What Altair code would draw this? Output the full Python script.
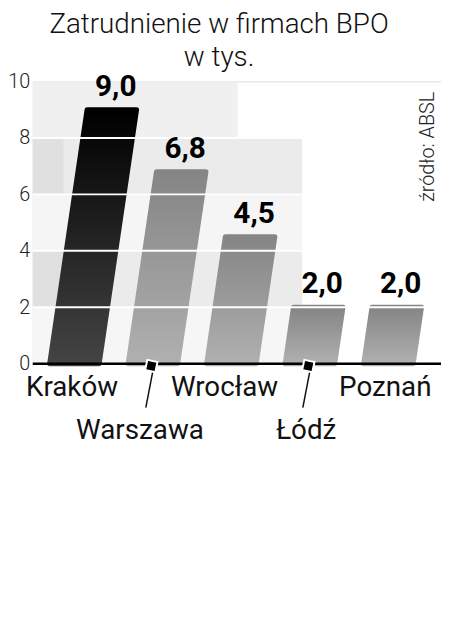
import altair as alt
import pandas as pd

# ---- data ----
cities = ["Kraków", "Warszawa", "Wrocław", "Łódź", "Poznań"]
values = [9.0, 6.8, 4.5, 2.0, 2.0]
label_rows = [1, 2, 1, 2, 1]
y_ticks = [0, 2, 4, 6, 8, 10]
grid_values = [2, 4, 6, 8]
title_lines = ["Zatrudnienie w firmach BPO", "w tys."]
source_text = "źródło: ABSL"

# ---- style constants ----
W, H = 412, 285
X_MAX = 5.2            # slots across the plot
OFF = 0.2146           # left offset of a bar in its slot
BW = 0.631             # bar width (slots)
SLANT = 0.053          # horizontal lean per unit of value (slots)
FONT = "Roboto"
label_shift = [-0.03, -0.165, -0.088, -0.047, -0.04]   # category label nudges (slots)

# table for bars: two rows per city (bottom, top)
bar_rows = []
for i, (c, v) in enumerate(zip(cities, values)):
    for y in (0.0, v):
        bar_rows.append({"city": c, "idx": i, "y": y, "value": v})
bars_df = pd.DataFrame(bar_rows)

lab_df = pd.DataFrame({
    "city": cities,
    "idx": list(range(len(cities))),
    "value": values,
    "row": label_rows,
    "shift": label_shift,
    "txt": [f"{v:.1f}".replace(".", ",") for v in values],
})

xs = alt.Scale(domain=[0, X_MAX], nice=False, zero=False)
ys = alt.Scale(domain=[0, 10], nice=False)

base_bars = alt.Chart(bars_df).transform_calculate(
    xl=f"datum.idx + {OFF} + {SLANT} * datum.y",
    xr=f"datum.idx + {OFF} + {BW} + {SLANT} * datum.y",
)

dark_grad = alt.Gradient(
    gradient="linear", x1=0, y1=1, x2=0, y2=0,
    stops=[alt.GradientStop(color="#444444", offset=0),
           alt.GradientStop(color="#000000", offset=1)],
)
gray_grad = alt.Gradient(
    gradient="linear", x1=0, y1=1, x2=0, y2=0,
    stops=[alt.GradientStop(color="#b0b0b0", offset=0),
           alt.GradientStop(color="#858585", offset=1)],
)

def bar_layer(filt, grad):
    return base_bars.transform_filter(filt).mark_area(
        orient="horizontal", fill=grad, stroke=grad, strokeWidth=5,
        strokeJoin="round",
    ).encode(
        y=alt.Y("y:Q", scale=ys, axis=alt.Axis(
            values=y_ticks, domain=False, ticks=False, grid=False,
            labelFont=FONT, labelFontSize=20, labelFontWeight=300,
            labelColor="#222222", labelPadding=3, title=None)),
        x=alt.X("xl:Q", scale=xs, axis=None),
        x2="xr:Q",
        detail="city:N",
    )

kr = bar_layer(alt.datum.city == cities[0], dark_grad)
others = bar_layer(alt.datum.city != cities[0], gray_grad)

# staircase backdrop
bands = pd.DataFrame({
    "y0": [8, 6, 4, 2, 0, 6, 2],
    "y1": [10, 8, 6, 4, 2, 8, 4],
    "x0": [0, 0, 0, 0, 0, 0, 0],
    "x1": [2.61, 3.43, 3.43, 3.43, 3.43, 0.39, 0.39],
    "fill": ["#f0f0f0", "#ebebeb", "#f5f5f5", "#ebebeb", "#f6f6f6", "#e0e0e0", "#e0e0e0"],
})
backdrop = alt.Chart(bands).mark_rect().encode(
    x=alt.X("x0:Q", scale=xs, axis=None), x2="x1:Q",
    y=alt.Y("y0:Q", scale=ys), y2="y1:Q",
    color=alt.Color("fill:N", scale=None),
)

grid = alt.Chart(pd.DataFrame({"g": grid_values})).mark_rule(
    color="white", strokeWidth=2
).encode(y=alt.Y("g:Q", scale=ys), x=alt.value(0), x2=alt.value(W))

axis_line = alt.Chart(pd.DataFrame({"z": [0]})).mark_rule(
    color="black", strokeWidth=2.5
).encode(y=alt.Y("z:Q", scale=ys), x=alt.value(0), x2=alt.value(W))

labels_base = alt.Chart(lab_df).transform_calculate(
    cx=f"datum.idx + {OFF} + {BW}/2",
    lx=f"datum.idx + {OFF} + {BW}/2 + datum.shift",
    tx=f"datum.idx + {OFF} + {BW}/2 + {SLANT} * datum.value + 0.05",
    zero="0",
)

value_labels = labels_base.mark_text(
    font=FONT, fontSize=30, fontWeight="bold", color="#000000",
    baseline="alphabetic", dy=-14,
).encode(
    x=alt.X("tx:Q", scale=xs), y=alt.Y("value:Q", scale=ys), text="txt:N"
)

row1 = labels_base.transform_filter(alt.datum.row == 1).mark_text(
    font=FONT, fontSize=28, color="#111111", baseline="alphabetic", dy=33,
).encode(x=alt.X("lx:Q", scale=xs), y=alt.Y("zero:Q", scale=ys), text="city:N")

row2 = labels_base.transform_filter(alt.datum.row == 2).mark_text(
    font=FONT, fontSize=28, color="#111111", baseline="alphabetic", dy=76,
).encode(x=alt.X("lx:Q", scale=xs), y=alt.Y("zero:Q", scale=ys), text="city:N")

leaders = labels_base.transform_filter(alt.datum.row == 2).transform_calculate(
    lx2="datum.cx - 0.09", ly1="-0.25", ly2="-1.55",
).mark_rule(color="#111111", strokeWidth=1.5).encode(
    x=alt.X("cx:Q", scale=xs), x2="lx2:Q",
    y=alt.Y("ly1:Q", scale=ys), y2="ly2:Q",
)

markers = labels_base.transform_filter(alt.datum.row == 2).transform_calculate(
    my="-0.08", mx="datum.cx - 0.02",
).mark_square(
    size=110, color="black", opacity=1, stroke="white", strokeWidth=2, angle=12,
).encode(x=alt.X("mx:Q", scale=xs), y=alt.Y("my:Q", scale=ys))

title1 = alt.Chart(pd.DataFrame({"t": [title_lines[0]]})).mark_text(
    font=FONT, fontSize=28, fontWeight=300, color="#111111", align="center",
    baseline="alphabetic",
).encode(x=alt.value(188), y=alt.value(-49), text="t:N")
title2 = alt.Chart(pd.DataFrame({"t": [title_lines[1]]})).mark_text(
    font=FONT, fontSize=28, fontWeight=300, color="#111111", align="center",
    baseline="alphabetic",
).encode(x=alt.value(188), y=alt.value(-16), text="t:N")

source = alt.Chart(pd.DataFrame({"t": [source_text]})).mark_text(
    font=FONT, fontSize=20, fontWeight=300, color="#222222", angle=270,
    align="center", baseline="middle",
).encode(x=alt.value(399), y=alt.value(66), text="t:N")

chart = alt.layer(
    backdrop, others, kr, grid, axis_line, leaders, markers,
    value_labels, row1, row2, title1, title2, source,
).properties(
    width=W, height=H,
    autosize=alt.AutoSizeParams(type="none"),
    padding={"left": 25, "top": 72, "right": 0, "bottom": 95},
).configure_view(stroke=None).configure(background="white")

chart.save("out.html", embed_options={"renderer": "svg", "actions": False})
